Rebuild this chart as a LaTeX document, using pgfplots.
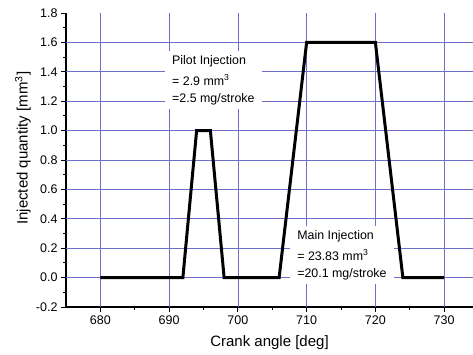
\documentclass[border=0pt]{standalone}
\usepackage{pgfplots}
\pgfplotsset{compat=1.18}
\usepackage{fontspec}
\setmainfont{Liberation Sans}
\definecolor{gridblue}{RGB}{110,110,205}
\begin{document}
\begin{tikzpicture}
\useasboundingbox (-66pt,-48pt) rectangle (407pt,307pt);
\begin{axis}[
  at={(0pt,0pt)}, anchor=south west,
  scale only axis, width=407pt, height=294pt,
  xmin=675, xmax=734.2, ymin=-0.2, ymax=1.8,
  axis x line*=bottom, axis y line*=left,
  xtick={680,690,700,710,720,730},
  ytick={-0.2,0,0.2,0.4,0.6,0.8,1.0,1.2,1.4,1.6,1.8},
  minor x tick num=1, minor y tick num=1,
  tick align=outside, major tick length=5pt, minor tick length=3pt,
  every tick/.style={black, line width=0.8pt},
  axis line style={black, line width=1.2pt},
  /pgf/number format/assume math mode=true,
  yticklabel style={/pgf/number format/.cd, fixed, fixed zerofill, precision=1},
  xticklabel style={/pgf/number format/.cd, fixed, precision=0, 1000 sep={}},
  ticklabel style={font=\fontsize{12.5}{14}\selectfont},
  xlabel={Crank angle [deg]},
  ylabel={Injected quantity [mm\textsuperscript{3}]},
  label style={font=\fontsize{15}{18}\selectfont},
  ylabel style={at={(rel axis cs:-0.078,0.54)}, anchor=south, rotate=0},
  xlabel style={at={(rel axis cs:0.5,0)}, anchor=north, yshift=-25pt},
  extra x ticks={680,690,700,710,720,730}, extra x tick labels={},
  extra y ticks={0,0.2,0.4,0.6,0.8,1.0,1.2,1.4,1.6}, extra y tick labels={},
  extra tick style={grid=major, major grid style={gridblue, line width=0.6pt}, major tick length=0pt},
]
\node[anchor=north west, fill=white, align=left, inner xsep=7pt, inner ysep=4pt,
  font=\fontsize{12.4}{17}\selectfont] at (axis cs:689.4,1.541)
  {Pilot Injection\\[4pt]= 2.9 mm\textsuperscript{3}\\=2.5 mg/stroke};
\node[anchor=north west, fill=white, align=left, inner xsep=7pt, inner ysep=4pt,
  font=\fontsize{12.4}{17}\selectfont] at (axis cs:707.6,0.351)
  {Main Injection\\[4pt]= 23.83 mm\textsuperscript{3}\\=20.1 mg/stroke};
\addplot[black, line width=3pt, mark=none] coordinates {
  (680,0) (692,0) (694,1) (696,1) (698,0) (706,0) (710,1.6) (720,1.6) (724,0) (730,0)
};
\end{axis}
\end{tikzpicture}
\end{document}
